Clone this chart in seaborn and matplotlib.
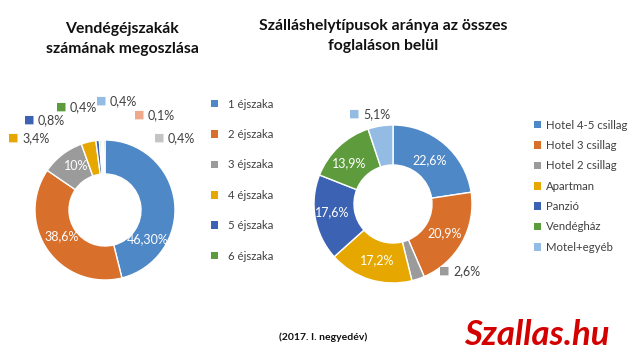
import matplotlib
matplotlib.use("Agg")
import matplotlib.pyplot as plt
import seaborn as sns
from matplotlib.patches import Patch

sns.set_theme(style="white")
plt.rcParams['font.family'] = ['Lato', 'DejaVu Sans']

# ---- data ----
left_title = "Vendégéjszakák\nszámának megoszlása"
left_labels = ["1 éjszaka", "2 éjszaka", "3 éjszaka", "4 éjszaka", "5 éjszaka", "6 éjszaka",
               "7 éjszaka", "8 éjszaka", "9+ éjszaka"]
left_values = [46.3, 38.6, 10.0, 3.4, 0.8, 0.4, 0.4, 0.1, 0.4]
left_texts = ["46,30%", "38,6%", "10%", "3,4%", "0,8%", "0,4%", "0,4%", "0,1%", "0,4%"]
left_colors = ["#4F88C6", "#D86F2B", "#9B9B9B", "#E6A800", "#3B62B3", "#5E9B3C",
               "#94BBE3", "#F0A98A", "#C4C4C4"]
left_legend_n = 6

right_title = "Szálláshelytípusok aránya az összes\nfoglaláson belül"
right_labels = ["Hotel 4-5 csillag", "Hotel 3 csillag", "Hotel 2 csillag", "Apartman",
                "Panzió", "Vendégház", "Motel+egyéb"]
right_values = [22.6, 20.9, 2.6, 17.2, 17.6, 13.9, 5.1]
right_texts = ["22,6%", "20,9%", "2,6%", "17,2%", "17,6%", "13,9%", "5,1%"]
right_colors = ["#4F88C6", "#D86F2B", "#9B9B9B", "#E6A800", "#3B62B3", "#5E9B3C", "#94BBE3"]

footnote = "(2017. I. negyedév)"
brand = "Szallas.hu"

# ---- layout (pixel positions) ----
W, H = 644, 362
fig = plt.figure(figsize=(W / 100, H / 100), dpi=100)
ax = fig.add_axes([0, 0, 1, 1])

def Y(py):
    return H - py

# label positions: (x, y, inside?)
left_pos = [(148, 239, True), (62, 236, True), (76, 166, True), (22, 138, False),
            (38, 120, False), (70, 107, False), (110, 101, False), (148, 115, False),
            (168, 138, False)]
right_pos = [(430, 160, True), (445, 233, True), (453, 271, False), (377, 260, True),
             (332, 212, True), (349, 163, True), (363, 114, False)]

def donut(values, colors, center, radius, width):
    ax.pie(values, colors=colors, startangle=90, counterclock=False,
           center=(center[0], Y(center[1])), radius=radius,
           wedgeprops=dict(width=width, edgecolor="white", linewidth=1.0))

donut(left_values, left_colors, (105, 210), 70, 34)
donut(right_values, right_colors, (393, 204), 79, 40)

def put_labels(texts, colors, pos):
    for t, c, (x, y, inside) in zip(texts, colors, pos):
        if inside:
            ax.text(x, Y(y), t, color="white", fontsize=9, ha="center", va="center")
        else:
            ax.text(x - 4, Y(y), "\u25A0", color=c, fontsize=8, ha="right", va="center",
                    family="DejaVu Sans")
            ax.text(x, Y(y), t, color="#404040", fontsize=9, ha="left", va="center")

put_labels(left_texts, left_colors, left_pos)
put_labels(right_texts, right_colors, right_pos)

ax.text(122, Y(39), left_title, fontsize=11.3, fontweight="bold", ha="center",
        va="center", color="#111111", linespacing=1.5)
ax.text(383, Y(36), right_title, fontsize=11.3, fontweight="bold", ha="center",
        va="center", color="#111111", linespacing=1.5)

h1 = [Patch(facecolor=c, edgecolor="none") for c in left_colors[:left_legend_n]]
leg1 = ax.legend(h1, left_labels[:left_legend_n], loc="upper left",
                 bbox_to_anchor=(205 / W, 1 - 93 / H), frameon=False, fontsize=8.2,
                 handlelength=0.65, handleheight=0.65, handletextpad=0.9,
                 labelspacing=1.7, borderpad=0, labelcolor="#404040")
ax.add_artist(leg1)
h2 = [Patch(facecolor=c, edgecolor="none") for c in right_colors]
ax.legend(h2, right_labels, loc="upper left", bbox_to_anchor=(528 / W, 1 - 114 / H),
          frameon=False, fontsize=8.2, handlelength=0.65, handleheight=0.65,
          handletextpad=0.45, labelspacing=0.82, borderpad=0, labelcolor="#404040")

ax.text(323, Y(337), footnote, fontsize=7.5, fontweight="bold", ha="center", va="center",
        color="#111111")
ax.text(537, Y(335), brand, fontsize=25, fontweight="bold", style="italic",
        ha="center", va="center", color="#D40000")

ax.set_xlim(0, W)
ax.set_ylim(0, H)
ax.set_aspect("equal")
ax.axis("off")
fig.savefig("out.png", dpi=100)
